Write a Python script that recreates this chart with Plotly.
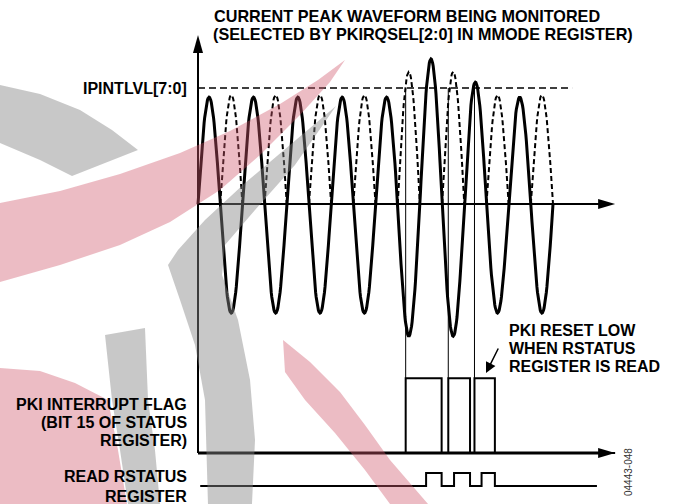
import numpy as np
import plotly.graph_objects as go

# ---------------- data ----------------
# Time unit = one cycle of the monitored current waveform; IPINTLVL threshold = 1.0
N_CYCLES = 8
POS_PEAK = [0.92, 0.92, 0.92, 0.92, 0.92, 1.25, 1.05, 0.92]   # positive half-cycle peaks
NEG_PEAK = [0.94, 0.94, 0.94, 0.94, 1.14, 1.14, 0.94, 0.94]   # negative half-cycle peaks (magnitude)
THRESHOLD = 1.0
THRESHOLD_END = 8.43

# PKI interrupt flag (bit 15 of STATUS): transition times and states
FLAG_T = [0.0, 4.68, 5.49, 5.64, 6.13, 6.23, 6.69, 9.40]
FLAG_S = [0, 1, 0, 1, 0, 1, 0, 0]
# READ RSTATUS register strobe
READ_T = [0.05, 5.14, 5.49, 5.77, 6.13, 6.39, 6.69, 8.99]
READ_S = [0, 1, 0, 1, 0, 1, 0, 0]

AXIS_END = 9.40
Y_AXIS_TOP = 1.457

# ---------------- layout constants ----------------
W, H = 675, 504
X_RANGE = [-4.462, 10.749]
Y_RANGE = [-2.5862, 1.7586]
FLAG_BASE, FLAG_H = -2.147, 0.644
READ_BASE, READ_H = -2.431, 0.112
FONT = "Liberation Sans, Arial, sans-serif"

# ---------------- build the waveform from the half-cycle peaks ----------------
def hump(t0, peak, n=41):
    t = t0 + np.linspace(0, 0.5, n)
    return t, peak * np.sin(2 * np.pi * (t - t0))

sx, sy, dx, dy = [], [], [], []
for k in range(N_CYCLES):
    t, y = hump(k, POS_PEAK[k])
    sx += list(t); sy += list(y)
    t, y = hump(k + 0.5, NEG_PEAK[k])
    sx += list(t[1:]); sy += list(-y[1:])
    dx += list(t) + [None]; dy += list(y) + [None]

fig = go.Figure()
fig.add_trace(go.Scatter(x=sx, y=sy, mode="lines",
                         line=dict(color="black", width=3), hoverinfo="skip"))
fig.add_trace(go.Scatter(x=dx, y=dy, mode="lines", connectgaps=False,
                         line=dict(color="black", width=2, dash="5px,3px"), hoverinfo="skip"))

# digital signals
fig.add_trace(go.Scatter(x=FLAG_T, y=[FLAG_BASE + s * FLAG_H for s in FLAG_S], mode="lines",
                         line=dict(color="black", width=2, shape="hv"), hoverinfo="skip"))
fig.add_trace(go.Scatter(x=READ_T, y=[READ_BASE + s * READ_H for s in READ_S], mode="lines",
                         line=dict(color="black", width=2, shape="hv"), hoverinfo="skip"))

shapes = []
# axes
shapes.append(dict(type="line", xref="x", yref="y", x0=0, x1=AXIS_END - 0.2, y0=0, y1=0,
                   line=dict(color="black", width=2)))
shapes.append(dict(type="line", xref="x", yref="y", x0=0, x1=0, y0=FLAG_BASE, y1=Y_AXIS_TOP - 0.1,
                   line=dict(color="black", width=2)))
shapes.append(dict(type="line", xref="x", yref="y", x0=0, x1=AXIS_END - 0.2, y0=FLAG_BASE, y1=FLAG_BASE,
                   line=dict(color="black", width=3)))
# arrowheads
for xa, ya in [(AXIS_END, 0), (AXIS_END, FLAG_BASE)]:
    shapes.append(dict(type="path", xref="x", yref="y", xsizemode="pixel", ysizemode="pixel",
                       xanchor=xa, yanchor=ya, path="M0,0 L-17,5 L-17,-5 Z",
                       fillcolor="black", line=dict(width=0)))
shapes.append(dict(type="path", xref="x", yref="y", xsizemode="pixel", ysizemode="pixel",
                   xanchor=0, yanchor=Y_AXIS_TOP, path="M0,0 L-5,-18 L5,-18 Z",
                   fillcolor="black", line=dict(width=0)))
# threshold
shapes.append(dict(type="line", xref="x", yref="y", x0=0, x1=THRESHOLD_END, y0=THRESHOLD, y1=THRESHOLD,
                   line=dict(color="black", width=1.3, dash="7px,4px")))
# connectors from threshold crossing to flag rising edges
for t, s_prev, s in zip(FLAG_T[1:], FLAG_S[:-1], FLAG_S[1:]):
    if s == 1 and s_prev == 0:
        shapes.append(dict(type="line", xref="x", yref="y", x0=t, x1=t, y0=THRESHOLD,
                           y1=FLAG_BASE + FLAG_H, line=dict(color="black", width=1)))

# watermark (decorative logo), drawn above like the semi-transparent overlay
def wm_path(pts):
    return "M" + " L".join(f"{x / W:.4f},{1 - y / H:.4f}" for x, y in pts) + " Z"

GRAY = "rgba(133,133,133,0.45)"
PINK = "rgba(207,87,107,0.40)"
wm = [
    (GRAY, [(0, 85), (40, 94), (80, 110), (112, 130), (138, 150), (72, 176), (40, 160), (0, 143)]),
    (PINK, [(0, 203), (60, 191), (120, 174), (180, 153), (230, 131), (280, 104), (318, 80), (345, 60),
            (330, 82), (300, 115), (260, 155), (220, 190), (170, 222), (120, 245), (60, 265), (0, 282)]),
    (GRAY, [(336, 106), (290, 145), (245, 183), (205, 220), (178, 250), (168, 265), (180, 300),
            (195, 345), (205, 400), (208, 504), (252, 504), (255, 440), (250, 380), (238, 320),
            (222, 275), (225, 245), (255, 210), (295, 165)]),
    (GRAY, [(105, 335), (145, 328), (148, 400), (155, 450), (160, 504), (128, 504), (120, 450), (112, 400)]),
    (PINK, [(0, 368), (40, 371), (75, 383), (108, 400), (118, 450), (127, 504), (0, 504)]),
    (PINK, [(283, 340), (310, 362), (340, 392), (365, 425), (390, 460), (428, 504), (390, 504),
            (365, 470), (335, 433), (305, 400), (285, 372)]),
]
for col, pts in wm:
    shapes.append(dict(type="path", xref="paper", yref="paper", path=wm_path(pts),
                       fillcolor=col, line=dict(width=0), layer="above"))

# ---------------- text ----------------
def label(text, px, py, xanchor="left", size=16, bold=True, color="black", **kw):
    return dict(text=text, x=px / W, y=1 - py / H, xref="paper", yref="paper",
                xanchor=xanchor, yanchor="middle", showarrow=False,
                font=dict(family=FONT, size=size, color=color, weight="bold" if bold else "normal"), **kw)

annotations = [
    label("CURRENT PEAK WAVEFORM BEING MONITORED", 212, 15.8, size=16.2),
    label("(SELECTED BY PKIRQSEL[2:0] IN MMODE REGISTER)", 211, 34, size=16.2),
    dict(text="IPINTLVL[7:0]", x=188.5 / W, y=THRESHOLD, xref="paper", yref="y",
         xanchor="right", yanchor="middle", showarrow=False,
         font=dict(family=FONT, size=16, color="black", weight="bold")),
    label("PKI RESET LOW", 506.5, 330),
    label("WHEN RSTATUS", 506.5, 348.7),
    label("REGISTER IS READ", 506.5, 366.5),
    label("PKI INTERRUPT FLAG", 188.5, 404.3, xanchor="right"),
    label("(BIT 15 OF STATUS", 188.5, 422.5, xanchor="right"),
    label("REGISTER)", 188.5, 440.3, xanchor="right"),
    label("READ RSTATUS", 188.5, 476.5, xanchor="right"),
    label("REGISTER", 188.5, 496, xanchor="right"),
    label("04443-048", 628, 472, xanchor="center", size=10, bold=False, color="#333333", textangle=-90),
    dict(text="", x=6.49, y=-1.457, xref="x", yref="y", showarrow=True,
         ax=13, ay=-26, axref="pixel", ayref="pixel",
         arrowhead=2, arrowsize=1.4, arrowwidth=1.5, arrowcolor="black"),
]

fig.update_layout(
    width=W, height=H, margin=dict(l=0, r=0, t=0, b=0),
    paper_bgcolor="white", plot_bgcolor="white", showlegend=False,
    xaxis=dict(range=X_RANGE, visible=False, fixedrange=True),
    yaxis=dict(range=Y_RANGE, visible=False, fixedrange=True),
    shapes=shapes, annotations=annotations,
)
fig.write_html("out.html", config={"displayModeBar": False, "staticPlot": True},
               post_script="document.body.style.margin='0px';")
